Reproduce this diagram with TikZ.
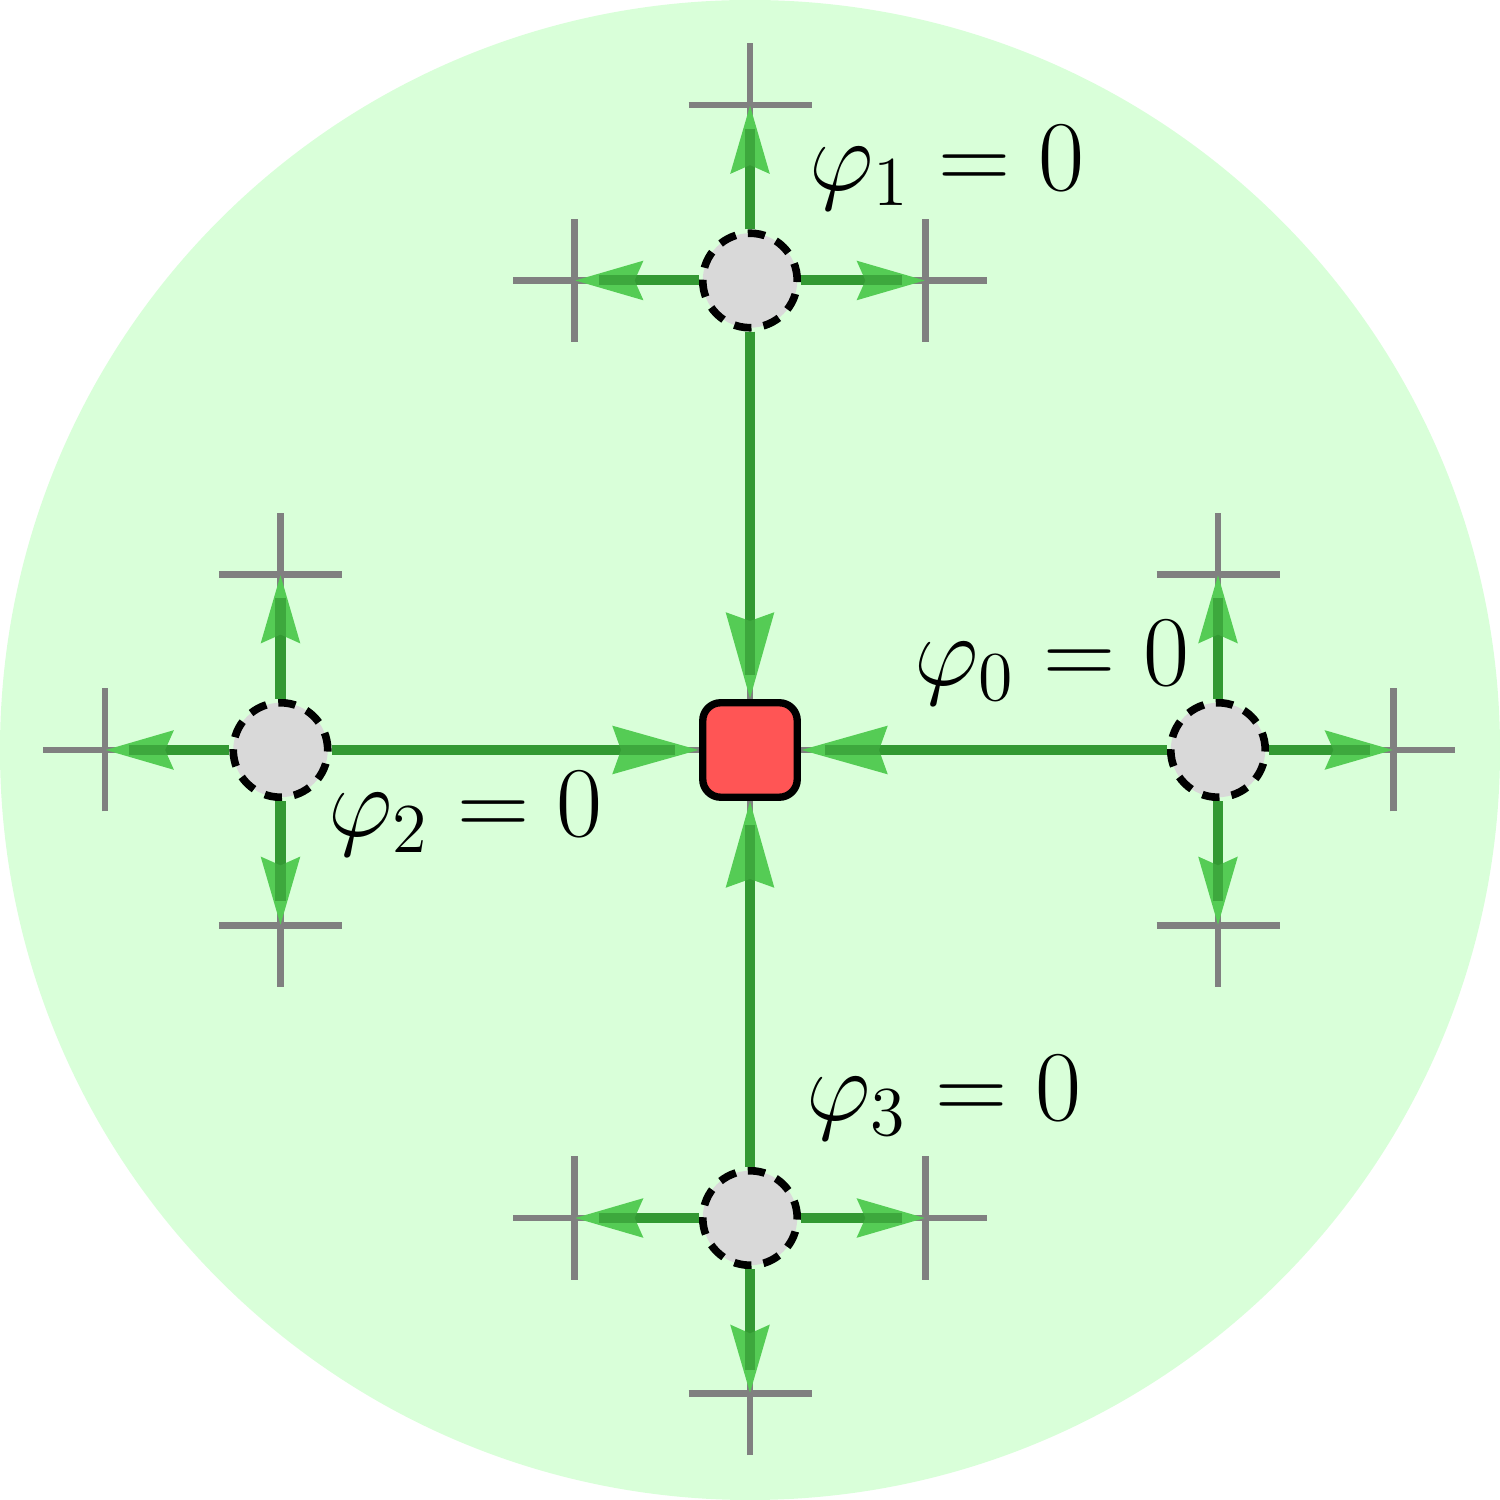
\RequirePackage{fix-cm}
\documentclass[tikz,border=0pt]{standalone}
\usetikzlibrary{arrows.meta}

\definecolor{bggreen}{RGB}{217,255,217}
\definecolor{flowdark}{RGB}{51,153,51}
\definecolor{flowlight}{RGB}{85,204,85}
\definecolor{sinkred}{RGB}{255,85,85}
\definecolor{sitegray}{RGB}{217,217,217}

\begin{document}
\begin{tikzpicture}[
  every node/.style={font=\fontsize{19}{23}\selectfont},
  site/.style={circle, fill=sitegray, draw=black, dash pattern=on 3.3pt off 2.3pt, line width=1.45pt, minimum size=0.63cm, inner sep=0pt},
  sinkbox/.style={rectangle, rounded corners=0.12cm, fill=sinkred, draw=black, line width=1.4pt, minimum size=0.63cm, inner sep=0pt},
  flow/.style={line width=1.9pt, draw=flowdark, -{Stealth[length=4.5mm, width=2.5mm, inset=0.5mm, flowlight]},
    postaction={draw=flowdark, opacity=0.7, -, shorten >=1.6mm}},
  inflow/.style={flow, -{Stealth[length=5.7mm, width=3.1mm, inset=0.5mm, flowlight]}},
  tick/.style={draw=gray, line width=1.3pt},
  label/.style={anchor=base west, inner sep=0pt},
]
  \useasboundingbox (-5,-5) rectangle (5,5);
  \fill[bggreen] (0,0) circle (5);

  % centre and the four sites
  \node[sinkbox] (c) at (0,0) {};
  \node[site] (n0) at (3.12,0) {};
  \node[site] (n1) at (0,3.13) {};
  \node[site] (n2) at (-3.13,0) {};
  \node[site] (n3) at (0,-3.12) {};

  % ends of the outer links
  \coordinate (n1u) at (0,4.30);
  \coordinate (n1l) at (-1.17,3.13);
  \coordinate (n1r) at (1.17,3.13);
  \coordinate (n2u) at (-3.13,1.17);
  \coordinate (n2l) at (-4.30,0);
  \coordinate (n2d) at (-3.13,-1.17);
  \coordinate (n0u) at (3.12,1.17);
  \coordinate (n0r) at (4.29,0);
  \coordinate (n0d) at (3.12,-1.17);
  \coordinate (n3l) at (-1.17,-3.12);
  \coordinate (n3r) at (1.17,-3.12);
  \coordinate (n3d) at (0,-4.29);

  % crosses and grid lines
  \foreach \p in {n1u,n1l,n1r,n2u,n2l,n2d,n0u,n0r,n0d,n3l,n3r,n3d}
    \draw[tick] (\p) +(-0.41,0) -- +(0.41,0) (\p) +(0,-0.41) -- +(0,0.41);
  \foreach \s in {n0,n1,n2,n3}
    \draw[tick] (\s) -- (c);

  % links into the centre
  \draw[inflow] (n0) -- (c);
  \draw[inflow] (n1) -- (c);
  \draw[inflow] (n2) -- (c);
  \draw[inflow] (n3) -- (c);

  % links out of the sites
  \draw[flow] (n1) -- (n1u);
  \draw[flow] (n1) -- (n1l);
  \draw[flow] (n1) -- (n1r);
  \draw[flow] (n2) -- (n2u);
  \draw[flow] (n2) -- (n2l);
  \draw[flow] (n2) -- (n2d);
  \draw[flow] (n0) -- (n0u);
  \draw[flow] (n0) -- (n0r);
  \draw[flow] (n0) -- (n0d);
  \draw[flow] (n3) -- (n3l);
  \draw[flow] (n3) -- (n3r);
  \draw[flow] (n3) -- (n3d);

  \node[label] (phi1) at (0.39,3.73) {$\varphi_1 = 0$};
  \node[label] (phi0) at (1.09,0.43) {$\varphi_0 = 0$};
  \node[label] (phi2) at (-2.82,-0.58) {$\varphi_2 = 0$};
  \node[label] (phi3) at (0.37,-2.47) {$\varphi_3 = 0$};
\end{tikzpicture}
\end{document}
